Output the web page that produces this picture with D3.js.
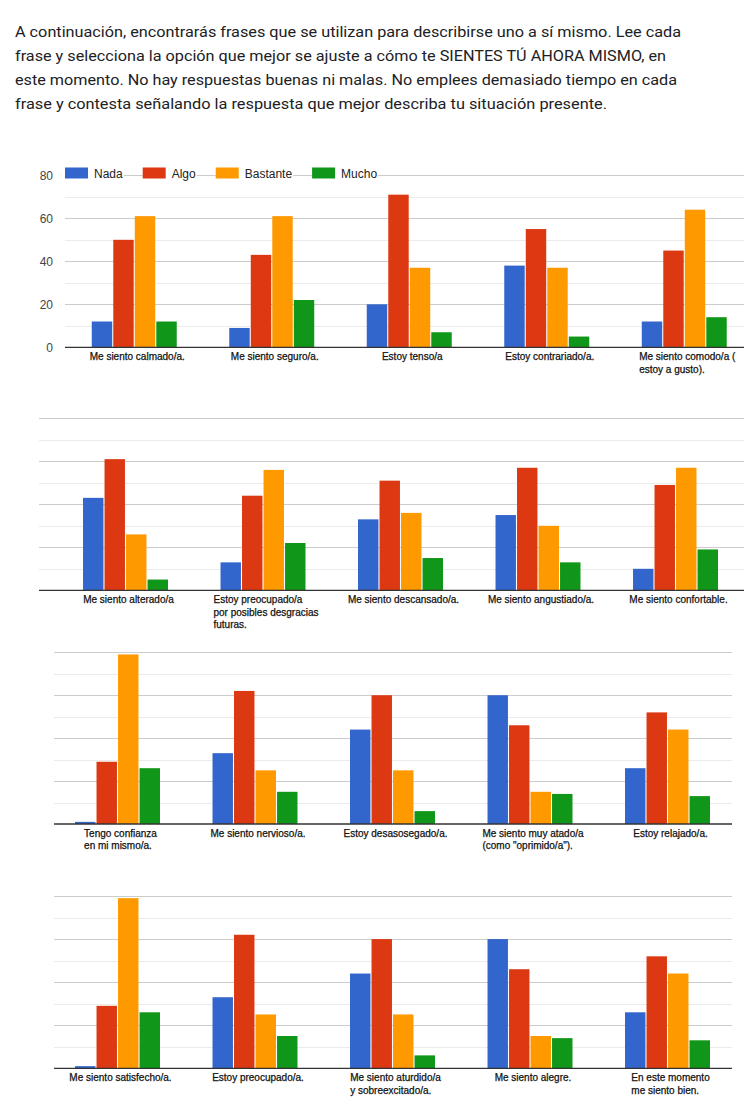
<!DOCTYPE html>
<html>
<head>
<meta charset="utf-8">
<script src="https://cdn.jsdelivr.net/npm/d3@7"></script>
<style>
  html, body { margin: 0; padding: 0; background: #fff; }
  svg { display: block; }
</style>
</head>
<body>
<svg id="chart" width="744" height="1106"></svg>
<script>
// ---------------- DATA ----------------
const introLines = [
  "A continuación, encontrarás frases que se utilizan para describirse uno a sí mismo. Lee cada",
  "frase y selecciona la opción que mejor se ajuste a cómo te SIENTES TÚ AHORA MISMO, en",
  "este momento. No hay respuestas buenas ni malas. No emplees demasiado tiempo en cada",
  "frase y contesta señalando la respuesta que mejor describa tu situación presente."
];

const seriesNames = ["Nada", "Algo", "Bastante", "Mucho"];

const categories = [
  "Me siento calmado/a.", "Me siento seguro/a.", "Estoy tenso/a", "Estoy contrariado/a.", "Me siento comodo/a (\nestoy a gusto).",
  "Me siento alterado/a", "Estoy preocupado/a\npor posibles desgracias\nfuturas.", "Me siento descansado/a.", "Me siento angustiado/a.", "Me siento confortable.",
  "Tengo confianza\nen mi mismo/a.", "Me siento nervioso/a.", "Estoy desasosegado/a.", "Me siento muy atado/a\n(como \"oprimido/a\").", "Estoy relajado/a.",
  "Me siento satisfecho/a.", "Estoy preocupado/a.", "Me siento aturdido/a\ny sobreexcitado/a.", "Me siento alegre.", "En este momento\nme siento bien."
];

const nada     = [12,  9, 20, 38, 12,   43, 13, 33, 35, 10,    1, 33, 44, 60, 26,    1, 33, 44, 60, 26];
const algo     = [50, 43, 71, 55, 45,   61, 44, 51, 57, 49,   29, 62, 60, 46, 52,   29, 62, 60, 46, 52];
const bastante = [61, 61, 37, 37, 64,   26, 56, 36, 30, 57,   79, 25, 25, 15, 44,   79, 25, 25, 15, 44];
const mucho    = [12, 22,  7,  5, 14,    5, 22, 15, 13, 19,   26, 15,  6, 14, 13,   26, 15,  6, 14, 13];

const yTicks = [0, 20, 40, 60, 80];
const yGrid  = [10, 20, 30, 40, 50, 60, 70, 80];

// ---------------- STYLE / LAYOUT ----------------
const colors = ["#3366cc", "#dc3912", "#ff9900", "#109618"];
const seriesValues = [nada, algo, bastante, mucho];

const panels = [
  { gridL: 65, gridR: 744, bandL: 65.5,  base: 347.3,  top: 175.3, axis: true,  legend: true },
  { gridL: 39, gridR: 744, bandL: 56.75, base: 590.3,  top: 418.3 },
  { gridL: 54, gridR: 732, bandL: 48.75, base: 824,    top: 652.3 },
  { gridL: 54, gridR: 732, bandL: 48.75, base: 1068.3, top: 896 }
];
const bandStep = 137.5;
const perPanel = 5;

const svg = d3.select("#chart");

// ---------------- HEADER ----------------
const introWidths = [666, 651, 662, 592];
svg.append("g").selectAll("text").data(introLines).join("text")
  .attr("x", 15)
  .attr("y", (d, i) => 37 + i * 24)
  .attr("font-family", "Roboto, 'Open Sans', sans-serif")
  .attr("font-size", 15)
  .attr("fill", "#202124")
  .attr("textLength", (d, i) => introWidths[i])
  .attr("lengthAdjust", "spacingAndGlyphs")
  .text(d => d);

// ---------------- PANELS ----------------
panels.forEach((p, pi) => {
  const g = svg.append("g");
  const idx = d3.range(pi * perPanel, pi * perPanel + perPanel);

  const y = d3.scaleLinear().domain([0, 80]).range([p.base, p.top]);
  const x = d3.scaleBand().domain(idx)
    .range([p.bandL, p.bandL + perPanel * bandStep])
    .paddingInner(0.382).paddingOuter(0.191);
  const xs = d3.scaleBand().domain(seriesNames).range([0, x.bandwidth()]).paddingInner(0.05);

  // gridlines
  g.append("g").selectAll("line").data(yGrid).join("line")
    .attr("x1", p.gridL).attr("x2", p.gridR)
    .attr("y1", d => Math.round(y(d)) + 0.5).attr("y2", d => Math.round(y(d)) + 0.5)
    .attr("stroke", d => d % 20 === 0 ? "#cccccc" : "#ebebeb")
    .attr("stroke-width", 1);

  // y axis labels
  if (p.axis) {
    const ax = d3.axisLeft(y).tickValues(yTicks).tickSize(0).tickPadding(0);
    const axG = g.append("g").attr("transform", `translate(${p.gridL - 12},0)`).call(ax);
    axG.select(".domain").remove();
    axG.selectAll("text")
      .attr("font-family", "Arial, 'Liberation Sans', sans-serif")
      .attr("font-size", 12)
      .attr("fill", "#444");
  }

  // bars
  const grp = g.append("g").selectAll("g").data(idx).join("g")
    .attr("transform", d => `translate(${x(d)},0)`);
  grp.selectAll("rect").data(i => seriesNames.map((s, k) => ({ s, k, v: seriesValues[k][i] }))).join("rect")
    .attr("x", d => xs(d.s))
    .attr("width", xs.bandwidth())
    .attr("y", d => y(d.v))
    .attr("height", d => y(0) - y(d.v))
    .attr("fill", d => colors[d.k]);

  // baseline
  g.append("line")
    .attr("x1", p.gridL).attr("x2", p.gridR)
    .attr("y1", y(0)).attr("y2", y(0))
    .attr("stroke", "#333").attr("stroke-width", 1.3);

  // category labels
  const lab = g.append("g").selectAll("text").data(idx).join("text")
    .attr("font-family", "Arial, 'Liberation Sans', sans-serif")
    .attr("font-size", 10)
    .attr("fill", "#111")
    .attr("stroke", "#111")
    .attr("stroke-width", 0.25);
  lab.each(function (i) {
    const t = d3.select(this);
    const lines = categories[i].split("\n");
    lines.forEach((ln, li) => {
      t.append("tspan").attr("y", p.base + 13 + li * 12.3).text(ln);
    });
    let w = 0;
    t.selectAll("tspan").each(function () { w = Math.max(w, this.getComputedTextLength()); });
    const cx = x(i) + x.bandwidth() / 2 + 3;
    t.selectAll("tspan").attr("x", cx - w / 2);
  });

  // legend
  if (p.legend) {
    const lg = g.append("g");
    let lx = p.gridL;
    seriesNames.forEach((s, k) => {
      const item = lg.append("g");
      const bg = item.append("rect").attr("fill", "#fff");
      item.append("rect")
        .attr("x", lx).attr("y", 167.5).attr("width", 23).attr("height", 11)
        .attr("fill", colors[k]);
      const tx = item.append("text")
        .attr("x", lx + 29).attr("y", 177.6)
        .attr("font-family", "Arial, 'Liberation Sans', sans-serif")
        .attr("font-size", 12)
        .attr("fill", "#222")
        .text(s);
      const tw = tx.node().getComputedTextLength();
      bg.attr("x", lx).attr("y", 166).attr("width", 29 + tw + 1).attr("height", 15);
      lx += 29 + tw + 20;
    });
  }
});
</script>
</body>
</html>
